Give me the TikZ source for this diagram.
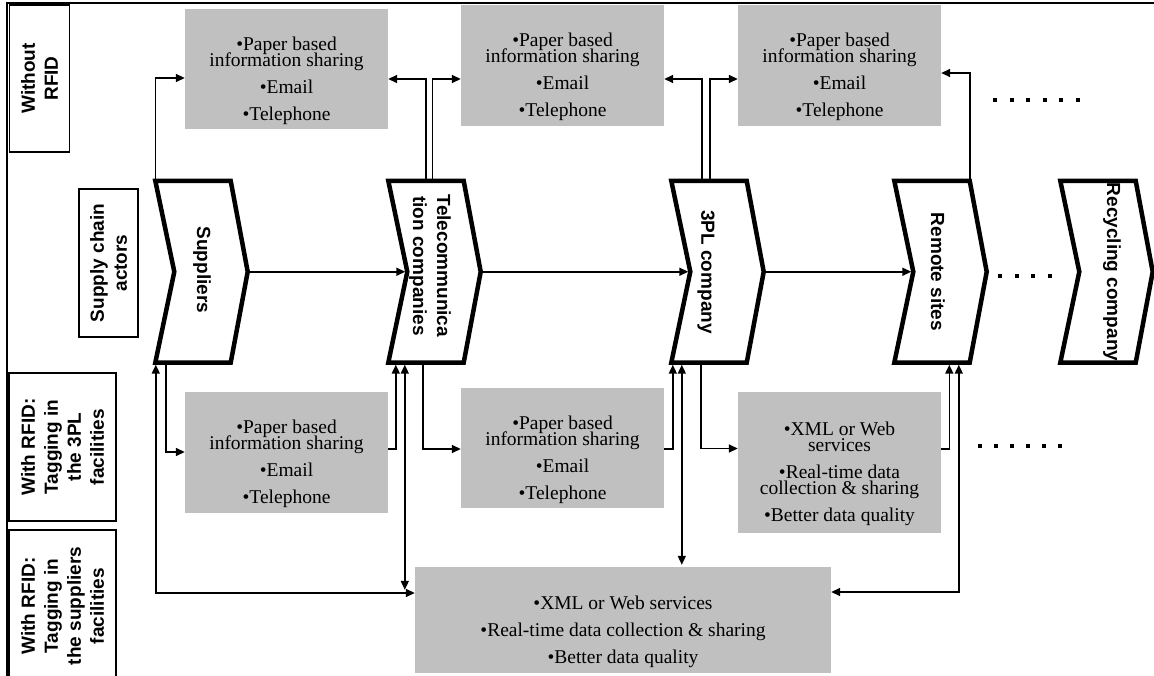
\documentclass[tikz,border=0pt]{standalone}
\usepackage{fontspec}
\setmainfont{Liberation Serif}
\setsansfont{Liberation Sans}
\usetikzlibrary{arrows.meta,calc}
\definecolor{boxgray}{HTML}{C0C0C0}
\setlength{\lineskiplimit}{-40pt}
\tikzset{
 gbox/.style={fill=boxgray, inner sep=0pt},
 gtext/.style={font=\fontsize{19.5}{16}\selectfont, align=center, inner sep=0pt},
 chevbox/.style={minimum width=75pt, minimum height=181.5pt, inner sep=0pt},
 chevline/.style={line width=4.5pt},
 chevtext/.style={font=\sffamily\bfseries\fontsize{19}{24}\selectfont, rotate=-90, align=center, inner sep=0pt},
 lbl/.style={draw, line width=1.3pt, rotate=90, align=center, inner sep=0pt, font=\sffamily\bfseries\fontsize{19}{23}\selectfont},
 arr/.style={line width=1.6pt, -{Triangle[length=9pt,width=8pt]}},
 darr/.style={line width=1.6pt, {Triangle[length=9pt,width=8pt]}-{Triangle[length=9pt,width=8pt]}},
 dotsq/.style={fill=black}
}
\begin{document}
\begin{tikzpicture}[x=1pt,y=-1pt]
\useasboundingbox (0,0) rectangle (1154,676);
% frame
\draw[line width=2.2pt] (7,690) -- (7,3) -- (1170,3);

% row labels
\node[lbl, minimum width=147pt, minimum height=60pt] (lwo) at (39.5,78.5) {Without\\RFID};
\node[lbl, minimum width=148pt, minimum height=59pt] (lsc) at (108.5,263) {Supply chain\\actors};
\node[lbl, minimum width=148pt, minimum height=107pt] (l3p) at (62.5,447) {With RFID:\\Tagging in\\the 3PL\\facilities};
\node[lbl, minimum width=152pt, minimum height=107pt] (lsu) at (62.5,606) {With RFID:\\Tagging in\\the suppliers\\facilities};

% gray boxes
\node[gbox, minimum width=203pt, minimum height=120pt] (b1) at (286.5,69) {};
\node[gbox, minimum width=203pt, minimum height=121pt] (b2) at (562.5,65.5) {};
\node[gbox, minimum width=203pt, minimum height=121pt] (b3) at (839.5,65.5) {};
\node[gbox, minimum width=203pt, minimum height=121pt] (b4) at (286.5,452.5) {};
\node[gbox, minimum width=203pt, minimum height=120pt] (b5) at (562.5,448) {};
\node[gbox, minimum width=203pt, minimum height=141pt] (b6) at (839.5,462.5) {};
\node[gbox, minimum width=416pt, minimum height=106pt] (b7) at (623,620) {};

\node[gtext] (t1) at ($(b1.center)+(0,12)$) {•Paper based\\information sharing\\[11pt]•Email\\[11pt]•Telephone};
\node[gtext] (t2) at ($(b2.center)+(0,11)$) {•Paper based\\information sharing\\[11pt]•Email\\[11pt]•Telephone};
\node[gtext] (t3) at ($(b3.center)+(0,11)$) {•Paper based\\information sharing\\[11pt]•Email\\[11pt]•Telephone};
\node[gtext] (t4) at ($(b4.center)+(0,11)$) {•Paper based\\information sharing\\[11pt]•Email\\[11pt]•Telephone};
\node[gtext] (t5) at ($(b5.center)+(0,11.5)$) {•Paper based\\information sharing\\[11pt]•Email\\[11pt]•Telephone};
\node[gtext] (t6) at ($(b6.center)+(0,11.5)$) {•XML or Web\\services\\[11pt]•Real-time data\\collection \& sharing\\[11pt]•Better data quality};
\node[gtext] (t7) at ($(b7.center)+(0,12)$) {•XML or Web services\\[11pt]•Real-time data collection \& sharing\\[11pt]•Better data quality};

% chevron placeholders
\node[chevbox] (sup) at (193,271.75) {};
\node[chevbox] (tel) at (426,271.75) {};
\node[chevbox] (tpl) at (709,271.75) {};
\node[chevbox] (rem) at (932,271.75) {};
\node[chevbox] (rec) at (1098,271.75) {};

% top connectors
\draw[arr] (sup.north west) |- ($(b1.west)+(0,9)$);
\draw[arr] (tel.north) |- ($(b1.east)+(0,10)$);
\draw[arr] ($(tel.north)+(6.5,0)$) |- ($(b2.west)+(0,13.5)$);
\draw[arr] ($(tpl.north)+(-7,0)$) |- ($(b2.east)+(0,13.5)$);
\draw[arr] ($(tpl.north)+(1,0)$) |- ($(b3.west)+(0,13.5)$);
\draw[arr] ($(rem.north east)+(0.5,0)$) |- ($(b3.east)+(0,7.5)$);

% middle connectors
\draw[arr, shorten >=2pt] ($(sup.east)+(17,0)$) -- ($(tel.west)+(19,0)$);
\draw[arr, shorten >=2pt] ($(tel.east)+(17,0)$) -- ($(tpl.west)+(19,0)$);
\draw[arr, shorten >=2pt] ($(tpl.east)+(17,0)$) -- ($(rem.west)+(19,0)$);

% bottom connectors
\draw[darr, shorten <=2pt] ($(sup.south west)+(0.5,0)$) |- ($(b7.west)+(0,-27)$);
\draw[arr] ($(sup.south west)+(10.5,0)$) |- ($(b4.west)+(0,-0.5)$);
\draw[arr, shorten >=2pt] ($(b4.east)+(0,-3.5)$) -| ($(tel.south west)+(7.5,0)$);
\coordinate (j0) at ($(tel.south west)+(16.5,0)$);
\coordinate (j1) at ($(b7.north west)+(-10,23)$);
\draw[darr, shorten <=2pt] (j0) -- (j0 |- j1);
\draw[arr] ($(tel.south west)+(34.5,0)$) |- ($(b5.west)+(0,1)$);
\draw[arr, shorten >=2pt] ($(b5.east)+(0,1)$) -| ($(tpl.south west)+(1.5,0)$);
\coordinate (j2) at ($(tpl.south west)+(10.5,0)$);
\draw[darr, shorten <=2pt, shorten >=2pt] (j2) -- (j2 |- b7.north);
\draw[arr] ($(tpl.south west)+(29.5,0)$) |- ($(b6.west)+(0,-14)$);
\draw[arr, shorten >=2pt] ($(b6.east)+(0,-13.5)$) -| ($(rem.south west)+(55,0)$);
\draw[darr, shorten <=2pt] ($(rem.south west)+(64.5,0)$) |- ($(b7.east)+(0,-28)$);

% chevron outlines and texts
\foreach \n in {sup,tel,tpl,rem,rec}{
  \draw[chevline] (\n.north west) -- (\n.north east) -- ($(\n.east)+(17,0)$) -- (\n.south east) -- (\n.south west) -- ($(\n.west)+(19,0)$) -- cycle;
}
\node[chevtext] (supt) at (202,270) {Suppliers};
\node[chevtext] (telt) at (430,266) {Telecommunica\\tion companies};
\node[chevtext] (tplt) at (706,272) {3PL company};
\node[chevtext] (remt) at (938,272) {Remote sites};
\node[chevtext] (rect) at (1112,272) {Recycling company};

% dots
\foreach \i in {0,...,5} \fill[dotsq] ({995+16.6*\i-2},98) rectangle ++(4,4);
\foreach \i in {0,...,3} \fill[dotsq] ({1000+16.7*\i-2},274) rectangle ++(4,4);
\foreach \i in {0,...,5} \fill[dotsq] ({980+16*\i-2},444) rectangle ++(4,4);
\end{tikzpicture}
\end{document}
